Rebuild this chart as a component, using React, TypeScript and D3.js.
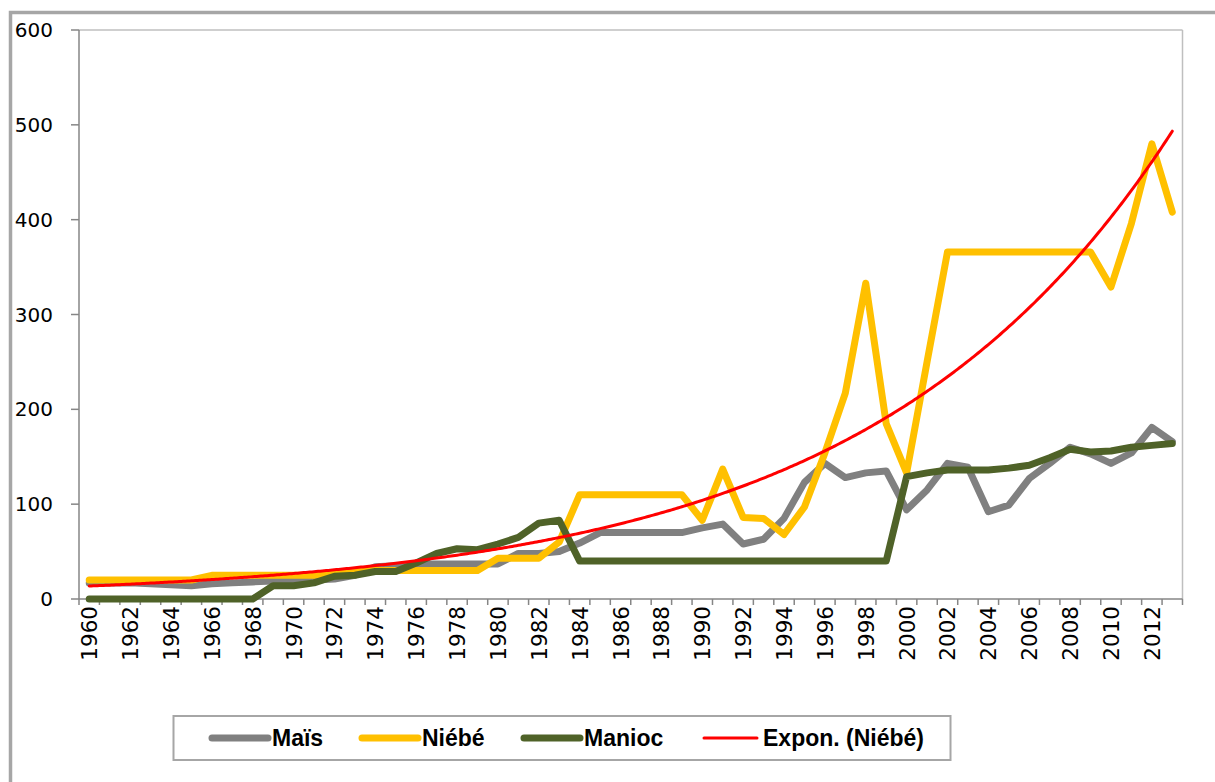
import React from "react";
import * as d3 from "d3";

const years: number[] = d3.range(1960, 2014);
const xTickYears: number[] = d3.range(1960, 2014, 2);
const yTicks: number[] = [0, 100, 200, 300, 400, 500, 600];

const mais: number[] = [
  17, 17, 17, 16, 15, 14, 16, 17, 18, 19,
  20, 20, 21, 25, 34, 35, 37, 37, 37, 37,
  37, 48, 48, 50, 59, 70, 70, 70, 70, 70,
  75, 79, 58, 63, 85, 123, 143, 128, 133, 135,
  94, 115, 143, 139, 92, 99, 127, 143, 160, 153,
  143, 154, 181, 166,
];

const niebe: number[] = [
  20, 20, 20, 20, 20, 20, 25, 25, 25, 25,
  25, 25, 27, 30, 30, 30, 30, 30, 30, 30,
  43, 43, 43, 60, 110, 110, 110, 110, 110, 110,
  83, 137, 86, 85, 68, 97, 154, 217, 333, 185,
  133, 250, 366, 366, 366, 366, 366, 366, 366, 366,
  329, 396, 480, 408,
];

const manioc: number[] = [
  0, 0, 0, 0, 0, 0, 0, 0, 0, 14,
  14, 17, 24, 25, 29, 29, 38, 48, 53, 52,
  58, 65, 80, 83, 40, 40, 40, 40, 40, 40,
  40, 40, 40, 40, 40, 40, 40, 40, 40, 40,
  129, 133, 136, 136, 136, 138, 141, 149, 158, 155,
  156, 160, 162, 164,
];

const seriesNames = ["Maïs", "Niébé", "Manioc", "Expon. (Niébé)"];
const seriesColors = ["#808080", "#ffc000", "#4f6228", "#ff0000"];

// Excel-style exponential trendline: y = a * exp(b * x), x = 1..n
function expFit(values: number[]) {
  const xs = values.map((_, i) => i + 1);
  const ls = values.map((v) => Math.log(v));
  const n = xs.length;
  const mx = d3.mean(xs)!;
  const ml = d3.mean(ls)!;
  let sxy = 0, sxx = 0;
  for (let i = 0; i < n; i++) {
    sxy += (xs[i] - mx) * (ls[i] - ml);
    sxx += (xs[i] - mx) * (xs[i] - mx);
  }
  const b = sxy / sxx;
  const a = Math.exp(ml - b * mx);
  return (x: number) => a * Math.exp(b * x);
}

export default function App() {
  const W = 1215, H = 782;
  const left = 79, right = 1182.5, top = 30, bottom = 599;
  const x = d3.scaleBand<number>().domain(years).range([left, right]).padding(0);
  const y = d3.scaleLinear().domain([0, 600]).range([bottom, top]);
  const cx = (yr: number) => (x(yr) as number) + x.bandwidth() / 2;

  const line = d3
    .line<number>()
    .x((_, i) => cx(years[i]))
    .y((d) => y(d));

  const trendFn = expFit(niebe);
  const trendX = d3.range(0, years.length - 1 + 0.001, 0.1);
  const trendLine = d3
    .line<number>()
    .x((t) => cx(years[0]) + t * x.bandwidth())
    .y((t) => y(trendFn(t + 1)));

  const boundaries = d3.range(0, years.length + 1).map((i) => left + i * x.bandwidth());

  const legendItems = [
    { name: seriesNames[0], color: seriesColors[0], x1: 212, x2: 268, tx: 272, w: 7 },
    { name: seriesNames[1], color: seriesColors[1], x1: 362, x2: 418, tx: 422, w: 7 },
    { name: seriesNames[2], color: seriesColors[2], x1: 524, x2: 580, tx: 584, w: 7 },
    { name: seriesNames[3], color: seriesColors[3], x1: 704, x2: 757, tx: 763, w: 3 },
  ];

  return (
    <svg
      width={W}
      height={H}
      style={{ position: "absolute", left: 0, top: 0, background: "#fff" }}
      fontFamily="'DejaVu Sans', sans-serif"
    >
      <rect x={0} y={0} width={W} height={H} fill="#fff" />
      {/* outer chart border */}
      <rect x={10.5} y={12.5} width={1260} height={900} fill="none" stroke="#a6a6a6" strokeWidth={3.5} />
      {/* plot area border (top/right) */}
      <line x1={left} x2={right} y1={top} y2={top} stroke="#bfbfbf" strokeWidth={1.5} />
      <line x1={right} x2={right} y1={top} y2={bottom} stroke="#bfbfbf" strokeWidth={1.5} />
      {/* y axis */}
      <line x1={left} x2={left} y1={top} y2={bottom} stroke="#868686" strokeWidth={1.5} />
      {yTicks.map((t) => (
        <g key={t}>
          <line x1={71} x2={left} y1={y(t)} y2={y(t)} stroke="#868686" strokeWidth={1.5} />
          <text x={53} y={y(t)} textAnchor="end" dominantBaseline="central" fontSize={20} fill="#000">
            {t}
          </text>
        </g>
      ))}
      {/* x axis */}
      <line x1={left} x2={right} y1={bottom} y2={bottom} stroke="#868686" strokeWidth={1.5} />
      {boundaries.map((bx, i) => (
        <line key={i} x1={bx} x2={bx} y1={bottom} y2={bottom + 6} stroke="#868686" strokeWidth={1.5} />
      ))}
      {xTickYears.map((yr) => (
        <g key={yr} transform={`translate(${cx(yr)},606)`}>
          <g transform="rotate(-90)">
            <text x={0} y={8} textAnchor="end" fontSize={21.5} fill="#000">
              {yr}
            </text>
          </g>
        </g>
      ))}
      {/* series */}
      {[mais, niebe, manioc].map((s, i) => (
        <path
          key={i}
          d={line(s) as string}
          fill="none"
          stroke={seriesColors[i]}
          strokeWidth={7}
          strokeLinejoin="round"
          strokeLinecap="round"
        />
      ))}
      <path d={trendLine(trendX) as string} fill="none" stroke={seriesColors[3]} strokeWidth={3} strokeLinecap="round" />
      {/* legend */}
      <rect x={173.5} y={716} width={777} height={44} fill="#fff" stroke="#a6a6a6" strokeWidth={2} />
      {legendItems.map((it) => (
        <g key={it.name}>
          <line x1={it.x1} x2={it.x2} y1={738} y2={738} stroke={it.color} strokeWidth={it.w} strokeLinecap="round" />
          <text
            x={it.tx}
            y={746}
            fontSize={23}
            fontWeight="bold"
            fontFamily="'Liberation Sans', Arial, sans-serif"
            fill="#000"
          >
            {it.name}
          </text>
        </g>
      ))}
    </svg>
  );
}
